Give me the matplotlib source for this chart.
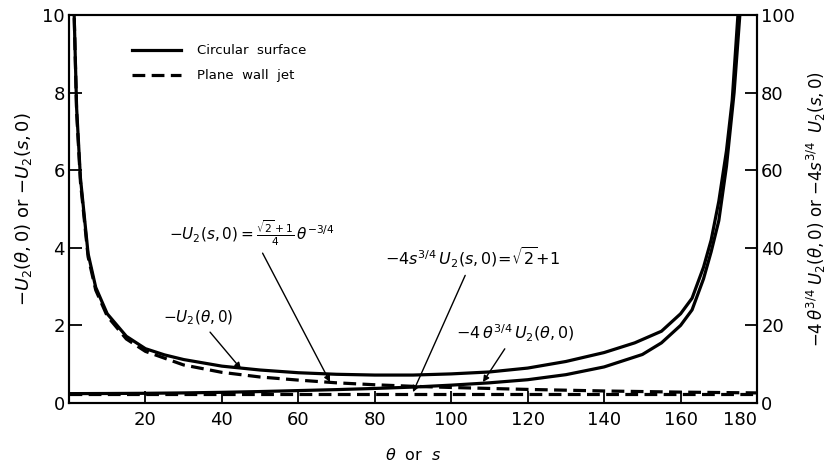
import matplotlib
matplotlib.use("Agg")
import matplotlib.pyplot as plt

plt.rcParams['font.family'] = ['DejaVu Sans']
plt.rcParams['mathtext.fontset'] = 'dejavusans'

# Circular surface: -U2(theta,0)  (left axis)
theta_circ = [1.0, 1.36, 2, 3, 5, 7, 10, 15, 20, 25, 30, 40, 50, 60, 70,
              80, 90, 100, 110, 120, 130, 140, 148, 155, 160, 163, 166, 168, 170, 172,
              173.5, 175]
u_circ = [12.5, 10.0, 7.6, 5.8, 3.85, 2.98, 2.3, 1.72, 1.4, 1.24, 1.12, 0.95, 0.85,
          0.78, 0.74, 0.72, 0.72, 0.75, 0.8, 0.9, 1.07, 1.3, 1.55, 1.85, 2.3, 2.7, 3.5,
          4.2, 5.2, 6.5, 7.8, 10.0]

# Circular surface: -4 theta^{3/4} U2(theta,0)  (right axis)
theta_circ4 = [0, 10, 20, 30, 40, 50, 60, 70, 80, 90, 100, 110, 120, 130, 140, 150,
               155, 160, 163, 166, 168, 170, 172, 174, 175.5]
u_circ4 = [2.414, 2.45, 2.5, 2.6, 2.75, 2.95, 3.2, 3.45, 3.75, 4.1, 4.6, 5.2, 6.0, 7.3,
           9.3, 12.5, 15.5, 20, 24, 32, 39, 47, 61, 80, 100]

# Plane wall jet: -U2(s,0)  (left axis)
s_jet = [1.0, 1.36, 2, 3, 5, 7, 10, 15, 20, 30, 40, 50, 60, 70, 80, 90, 100, 120, 140, 160, 180]
u_jet = [12.6, 10.0, 7.5, 5.7, 3.77, 2.91, 2.24, 1.65, 1.33, 0.98, 0.79, 0.67, 0.59, 0.52,
         0.47, 0.43, 0.40, 0.35, 0.31, 0.28, 0.26]

# Plane wall jet: -4 s^{3/4} U2(s,0) = sqrt(2)+1  (right axis)
s_jet4 = [0, 180]
u_jet4 = [2.414, 2.414]

xticks = [20, 40, 60, 80, 100, 120, 140, 160, 180]
yticks_left = [0, 2, 4, 6, 8, 10]
yticks_right = [0, 20, 40, 60, 80, 100]

fig = plt.figure(figsize=(8.28, 4.66), dpi=100)
ax = fig.add_axes([0.0833, 0.1352, 0.8310, 0.8326])
ax2 = ax.twinx()

lw = 2.3
dash = (0, (4, 2))
l1, = ax.plot(theta_circ, u_circ, color='black', lw=lw)
l2, = ax.plot(s_jet, u_jet, color='black', lw=lw, linestyle=dash)
ax2.plot(theta_circ4, u_circ4, color='black', lw=lw)
ax2.plot(s_jet4, u_jet4, color='black', lw=lw, linestyle=dash)

ax.set_xlim(0, 180)
ax.set_ylim(0, 10)
ax2.set_ylim(0, 100)
ax.set_xticks(xticks)
ax.set_yticks(yticks_left)
ax2.set_yticks(yticks_right)

for a in (ax, ax2):
    for sp in a.spines.values():
        sp.set_linewidth(1.5)
ax.tick_params(axis='both', direction='in', length=9, width=1.3, labelsize=13, pad=3)
ax2.tick_params(axis='y', direction='in', length=9, width=1.3, labelsize=13, pad=3)
ax.tick_params(axis='x', pad=6)
ax.get_xticklabels()[-1].set_horizontalalignment('right')

ax.set_xlabel(r'$\theta$  or  $s$', fontsize=11.5, labelpad=13)
ax.set_ylabel(r'$-U_2(\theta,0)$ or $-U_2(s,0)$', fontsize=13, labelpad=6)
ax2.set_ylabel(r'$-4\,\theta^{3/4}\;U_2(\theta,0)$ or $-4s^{3/4}\;\;U_2(s,0)$',
               fontsize=12, rotation=90, labelpad=7)

leg = ax.legend([l1, l2], ['Circular  surface', 'Plane  wall  jet'],
                loc='upper left', bbox_to_anchor=(0.075, 0.955), frameon=False,
                fontsize=9.5, handlelength=3.7, handletextpad=1.2, labelspacing=0.9)

ap = dict(arrowstyle='-|>', color='black', lw=1.0, mutation_scale=9, shrinkA=2, shrinkB=0)
ax.annotate(r'$-U_2(\theta,0)$', xy=(45, 0.88), xytext=(33.8, 2.19),
            ha='center', va='center', fontsize=11, arrowprops=ap)
ax.annotate(r'$-U_2(s,0) = \frac{\sqrt{2}+1}{4}\,\theta^{-3/4}$', xy=(68.3, 0.54),
            xytext=(47.9, 4.38), ha='center', va='center', fontsize=11, arrowprops=ap)
ax.annotate(r'$-4s^{3/4}\,U_2(s,0)\!=\!\sqrt{2}\!+\!1$', xy=(90, 0.28),
            xytext=(105.7, 3.74), ha='center', va='center', fontsize=11.5, arrowprops=ap)
ax.annotate(r'$-4\,\theta^{3/4}\,U_2(\theta,0)$', xy=(108.3, 0.54),
            xytext=(116.7, 1.8), ha='center', va='center', fontsize=11.5, arrowprops=ap)

fig.savefig('out.png', dpi=100)
